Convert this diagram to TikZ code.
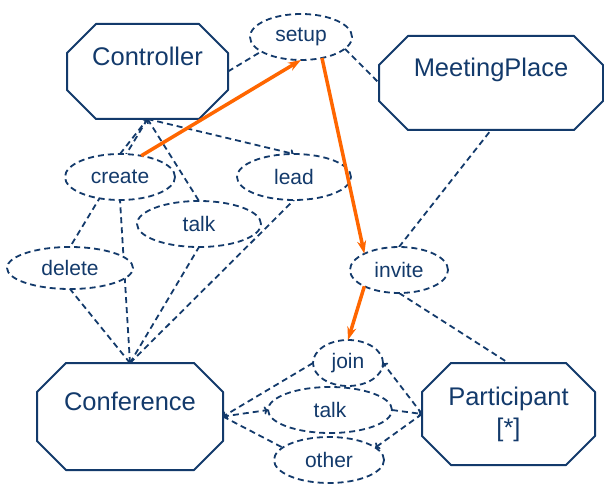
\documentclass[tikz,border=0pt]{standalone}
\usepackage{fontspec}
\setmainfont{Liberation Sans}
\usetikzlibrary{arrows,arrows.meta,shapes.geometric,backgrounds}
\definecolor{navy}{RGB}{19,58,107}
\definecolor{signal}{RGB}{255,102,0}

\begin{document}
\begin{tikzpicture}[x=1pt,y=-1pt,>={Stealth[length=13pt,width=9pt]},
  actor/.style={rectangle,outer sep=0pt,inner sep=0pt,text=navy,align=center,
    font=\fontsize{25.5}{31}\selectfont},
  octagon/.style={draw=navy,line width=2pt,line join=round},
  usecase/.style={ellipse,draw=navy,fill=white,line width=1.8pt,dash pattern=on 6pt off 4pt,
    text=navy,font=\fontsize{21}{24}\selectfont,inner sep=0pt,outer sep=0pt},
  dep/.style={navy,line width=1.8pt,dash pattern=on 6pt off 4pt},
  tip/.style={->,>={To[length=4pt,width=8pt]}},
  flow/.style={->,draw=signal,line width=3.5pt}]
  \useasboundingbox (0,0) rectangle (604,486);

  % actors
  \node[actor,minimum width=161pt,minimum height=95pt]  (Controller)   at (147.5,71.5) {Controller\\~};
  \node[actor,minimum width=224pt,minimum height=94pt]  (MeetingPlace) at (491,83)     {MeetingPlace\\~};
  \node[actor,minimum width=186pt,minimum height=107pt] (Conference)   at (130,416.5)  {Conference\\~};
  \node[actor,minimum width=173pt,minimum height=102pt] (Participant)  at (508.5,414)  {Participant\\{[*]}};
  \foreach \a in {Controller,MeetingPlace,Conference,Participant}
    \draw[octagon] ([xshift=29pt]\a.north west) -- ([xshift=-29pt]\a.north east)
      -- ([yshift=-29pt]\a.north east) -- ([yshift=29pt]\a.south east)
      -- ([xshift=-29pt]\a.south east) -- ([xshift=29pt]\a.south west)
      -- ([yshift=29pt]\a.south west) -- ([yshift=-29pt]\a.north west) -- cycle;

  % use cases
  \node[usecase,minimum width=102pt,minimum height=46pt] (setup)  at (301,37)  {setup};
  \node[usecase,minimum width=110pt,minimum height=46pt] (create) at (120,177) {create};
  \node[usecase,minimum width=114pt,minimum height=46pt] (lead)   at (294,177) {lead};
  \node[usecase,minimum width=124pt,minimum height=46pt] (ctalk)  at (199,224) {talk};
  \node[usecase,minimum width=126pt,minimum height=42pt] (delete) at (70,268)  {delete};
  \node[usecase,minimum width=98pt,minimum height=46pt]  (invite) at (399,270) {invite};
  \node[usecase,minimum width=70pt,minimum height=46pt]  (join)   at (348,363) {join};
  \node[usecase,minimum width=124pt,minimum height=46pt] (ptalk)  at (330,410) {talk};
  \node[usecase,minimum width=110pt,minimum height=46pt] (other)  at (329,460) {other};

  \begin{pgfonlayer}{background}
  \path[dep] (Controller.east) edge (setup.200)
             (setup.-15) edge (MeetingPlace.west)
             (create.north) edge[tip] (Controller.south)
             (Controller.south) edge (delete.north)
             (Controller.south) edge (ctalk.north)
             (Controller.south) edge[tip] (lead.north)
             (Conference.north) edge (delete.south)
                                edge (create.south)
                                edge (ctalk.south)
                                edge (lead.south)
             (join.west) edge[tip] (Conference.east)
             (Conference.east) edge[tip] (ptalk.west)
                               edge (other.165)
             (Participant.west) edge[tip] (join.east)
             (ptalk.east) edge[tip] (Participant.west)
             (Participant.west) edge[tip] (other.15)
             (invite.north) edge (MeetingPlace.south)
             (invite.south) edge (Participant.north);
  \end{pgfonlayer}

  % flow of control
  \draw[flow] (create.45) -- (setup.south);
  \draw[flow] (setup.-45) -- (invite.north west);
  \draw[flow] (invite.south west) -- (join.north);
\end{tikzpicture}
\end{document}
